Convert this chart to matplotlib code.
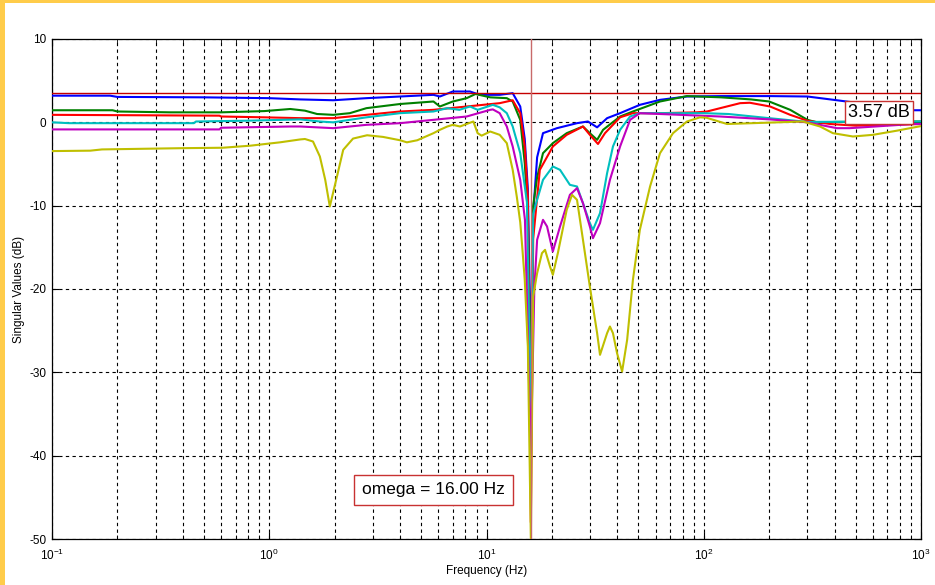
import matplotlib
matplotlib.use("Agg")
import matplotlib.pyplot as plt
from matplotlib.patches import Rectangle
from matplotlib.ticker import LogLocator, NullFormatter, FixedLocator

plt.rcParams['font.family'] = ['Liberation Sans', 'DejaVu Sans']
plt.rcParams['mathtext.fontset'] = 'custom'
plt.rcParams['mathtext.rm'] = 'Liberation Sans'
plt.rcParams['mathtext.it'] = 'Liberation Sans:italic'
plt.rcParams['mathtext.bf'] = 'Liberation Sans:bold'
plt.rcParams['axes.unicode_minus'] = False

# ---- singular value curves (frequency in Hz, level in dB) ----
blue_freq = [0.1, 0.185, 0.2, 0.5, 1.0, 1.39, 1.97, 2.8, 4.0, 5.7, 6.1, 7.0, 8.4, 9.3,
             11.5, 13.2, 14.3, 15.0, 15.5, 16.0, 16.4, 17.1, 18.2, 21.1, 26.1, 29.3,
             32.3, 35.9, 41.2, 50.8, 62.9, 83.7, 120, 200, 300, 410, 920, 1000]
blue_db = [3.2, 3.2, 3.05, 3.0, 2.9, 2.75, 2.65, 2.9, 3.1, 3.3, 3.1, 3.7, 3.7, 3.3,
           3.3, 3.5, 1.9, -2.0, -8.0, -28.0, -11.0, -4.2, -1.3, -0.7, -0.1, 0.1,
           -0.6, 0.5, 1.1, 2.1, 2.7, 3.1, 3.15, 3.15, 3.1, 2.65, 1.45, 1.45]

green_freq = [0.1, 0.19, 0.2, 0.35, 0.6, 0.95, 1.25, 1.46, 1.66, 1.97, 2.35, 2.8, 4.0,
              5.7, 6.1, 7.0, 8.1, 8.9, 10.4, 12.4, 13.2, 14.3, 15.0, 15.5, 16.0, 16.4,
              17.1, 18.2, 20.2, 23.4, 27.8, 29.9, 32.3, 34.4, 41.2, 47.2, 62.9, 83.7,
              120, 165, 200, 250, 300, 343, 400, 1000]
green_db = [1.45, 1.45, 1.3, 1.2, 1.2, 1.35, 1.6, 1.4, 1.0, 0.9, 1.1, 1.7, 2.2,
            2.5, 1.9, 2.5, 2.9, 3.4, 3.0, 2.9, 2.5, 0.3, -4.9, -11.0, -32.0, -10.0,
            -6.6, -3.7, -2.5, -1.3, -0.5, -1.3, -2.1, -0.9, 0.7, 1.3, 2.5, 3.15,
            3.0, 2.75, 2.5, 1.5, 0.3, -0.1, 0.05, 0.1]

red_freq = [0.1, 0.59, 0.6, 0.95, 1.39, 1.97, 2.8, 4.0, 5.7, 8.1, 11.5, 13.2, 14.3,
            15.0, 15.5, 16.0, 16.4, 17.6, 20.2, 23.4, 27.8, 29.9, 32.6, 35.1, 41.2,
            47.2, 62.9, 93, 103.5, 119, 147, 163, 202, 250, 299, 381, 500, 1000]
red_db = [0.9, 0.8, 0.7, 0.6, 0.5, 0.5, 0.9, 1.3, 1.5, 1.9, 2.3, 2.65, 1.1,
          -2.9, -9.0, -48.0, -14.0, -5.7, -2.9, -1.5, -0.5, -1.5, -2.6, -1.3, 0.6,
          1.1, 1.1, 1.2, 1.3, 1.7, 2.3, 2.35, 1.9, 0.9, 0.2, -0.2, -0.4, -0.2]

cyan_freq = [0.1, 0.12, 0.45, 0.46, 0.8, 1.39, 1.71, 1.97, 2.8, 4.0, 5.7, 6.6, 7.5,
             8.4, 9.1, 10.7, 11.5, 12.4, 13.2, 14.3, 15.35, 16.0, 16.4, 17.1, 18.2,
             20.2, 21.8, 24.2, 26.1, 27.8, 29.9, 30.9, 33.3, 35.9, 38.2, 41.2, 45.8,
             50.8, 100, 130, 200, 300, 1000]
cyan_db = [0.0, -0.1, -0.1, 0.1, 0.2, 0.35, 0.1, 0.0, 0.6, 1.1, 1.3, 1.7, 1.5,
           1.9, 1.5, 2.1, 1.8, 1.1, -0.5, -3.7, -9.6, -36.0, -11.0, -9.3, -6.9,
           -5.3, -5.7, -7.5, -7.7, -9.7, -12.1, -12.9, -10.9, -6.1, -2.9, -0.9, 0.7,
           1.1, 1.1, 1.0, 0.5, 0.05, 0.1]

magenta_freq = [0.1, 0.59, 0.6, 1.25, 1.39, 1.97, 2.8, 4.0, 5.7, 8.1, 10.4, 10.7,
                11.5, 12.4, 13.2, 14.3, 15.03, 16.0, 16.6, 17.1, 18.2, 19.0, 20.2,
                21.8, 24.2, 26.1, 27.8, 29.9, 30.9, 33.3, 37.0, 41.2, 45.8, 50.8, 78,
                119, 202, 299, 410, 470, 920, 1000]
magenta_db = [-0.85, -0.85, -0.65, -0.5, -0.5, -0.7, -0.3, -0.1, 0.3, 0.7, 1.5, 1.55,
              1.1, -0.5, -2.9, -6.9, -11.7, -40.0, -20.0, -14.1, -11.7, -12.5, -15.5,
              -12.5, -8.7, -7.9, -9.7, -12.5, -13.9, -12.1, -6.9, -2.9, 0.3, 1.1, 0.9,
              0.7, 0.35, 0.0, -0.7, -0.7, -0.2, -0.2]

yellow_freq = [0.1, 0.15, 0.17, 0.4, 0.61, 0.82, 1.12, 1.39, 1.46, 1.59, 1.71, 1.81,
               1.90, 2.05, 2.19, 2.43, 2.82, 3.34, 4.0, 4.3, 4.8, 5.7, 6.1, 6.6, 7.0,
               7.55, 8.1, 8.7, 9.1, 9.5, 10.4, 11.5, 12.4, 13.2, 13.8, 14.3, 14.6,
               15.0, 15.5, 16.0, 16.4, 17.1, 18.0, 18.6, 19.6, 20.2, 21.3, 23.4, 24.75,
               26.1, 27.8, 29.9, 32.3, 33.3, 35.9, 37.0, 38.2, 39.9, 42.1, 44.4, 47.2,
               50.8, 56.6, 62.9, 72.2, 83.7, 96, 103, 128, 168, 286, 343, 393, 486,
               601, 775, 1000]
yellow_db = [-3.45, -3.4, -3.25, -3.1, -3.05, -2.8, -2.4, -2.05, -2.0, -2.3, -4.1, -6.9,
             -10.1, -6.5, -3.3, -1.95, -1.55, -1.75, -2.15, -2.4, -2.15, -1.3, -0.9, -0.5, -0.3,
             -0.5, -0.2, 0.1, -1.3, -1.6, -1.1, -1.5, -2.5, -5.7, -9.0, -12.0, -14.9,
             -18.9, -26.9, -50.0, -20.9, -18.1, -15.7, -15.3, -17.3, -18.3, -15.7, -10.5, -8.7,
             -9.3, -14.1, -19.7, -25.3, -27.9, -25.3, -24.5, -25.3, -27.7, -29.9, -26.1, -18.9,
             -12.9, -7.7, -3.7, -1.3, 0.1, 0.6, 0.55, -0.2, -0.1, 0.1, -0.5, -1.3, -1.7,
             -1.5, -1.0, -0.45]

series = [
    (blue_freq, blue_db, (0.0, 0.0, 1.0)),
    (green_freq, green_db, (0.0, 0.5, 0.0)),
    (red_freq, red_db, (1.0, 0.0, 0.0)),
    (cyan_freq, cyan_db, (0.0, 0.75, 0.75)),
    (magenta_freq, magenta_db, (0.75, 0.0, 0.75)),
    (yellow_freq, yellow_db, (0.75, 0.75, 0.0)),
]

peak_db = 3.57
omega_hz = 16.00

x_ticks = [0.1, 1, 10, 100, 1000]
y_ticks = [-50, -40, -30, -20, -10, 0, 10]

# ---- figure ----
fig = plt.figure(figsize=(9.35, 5.85), dpi=100)
fig.patch.set_facecolor('white')
ax = fig.add_axes([52 / 935, 1 - 539 / 585, 869 / 935, 500 / 585])

for f, v, c in series:
    ax.semilogx(f, v, color=c, lw=1.5, zorder=3)

ax.axhline(peak_db, color='#C40000', lw=1.0, zorder=4)
ax.axvline(omega_hz, color='#C86A6A', lw=1.0, zorder=4)

ax.set_xlim(0.1, 1000)
ax.set_ylim(-50, 10)
ax.xaxis.set_major_locator(FixedLocator(x_ticks))
ax.xaxis.set_minor_locator(LogLocator(base=10, subs=range(2, 10)))
ax.xaxis.set_minor_formatter(NullFormatter())
ax.set_yticks(y_ticks)

grid_style = dict(color='black', linestyle=(0, (3, 3)), linewidth=0.8)
ax.grid(True, which='major', axis='both', **grid_style)
ax.grid(True, which='minor', axis='x', **grid_style)
ax.set_axisbelow(True)

ax.tick_params(which='both', direction='in', top=True, right=True,
               labelsize=8.5, colors='black')
ax.tick_params(axis='x', which='major', pad=6)
ax.tick_params(axis='y', which='major', pad=4)
ax.tick_params(which='major', length=5)
ax.tick_params(which='minor', length=3)
for s in ax.spines.values():
    s.set_linewidth(0.9)
    s.set_color('black')

ax.set_xlabel('Frequency (Hz)', fontsize=8.5, labelpad=2)
ax.set_ylabel('Singular Values (dB)', fontsize=8.5, labelpad=3)

box_edge = '#C83232'
ax.text(640, 1.15, f'{peak_db:.2f} dB', fontsize=13, ha='center', va='center',
        zorder=6, bbox=dict(boxstyle='square,pad=0.17', facecolor='white',
                            edgecolor=box_edge, linewidth=1.0))
ax.text(5.7, -44.1, f'omega = {omega_hz:.2f} Hz', fontsize=12.5, ha='center',
        va='center', zorder=6,
        bbox=dict(boxstyle='square,pad=0.45', facecolor='white',
                  edgecolor=box_edge, linewidth=1.0))

# frame strips along the left and top edges
frame_col = '#FFCC4A'
fig.add_artist(Rectangle((0, 0), 5 / 935, 1, transform=fig.transFigure,
                         facecolor=frame_col, edgecolor='none', zorder=10))
fig.add_artist(Rectangle((0, 1 - 3 / 585), 1, 3 / 585, transform=fig.transFigure,
                         facecolor=frame_col, edgecolor='none', zorder=10))

fig.savefig('out.png', dpi=100, facecolor='white')
